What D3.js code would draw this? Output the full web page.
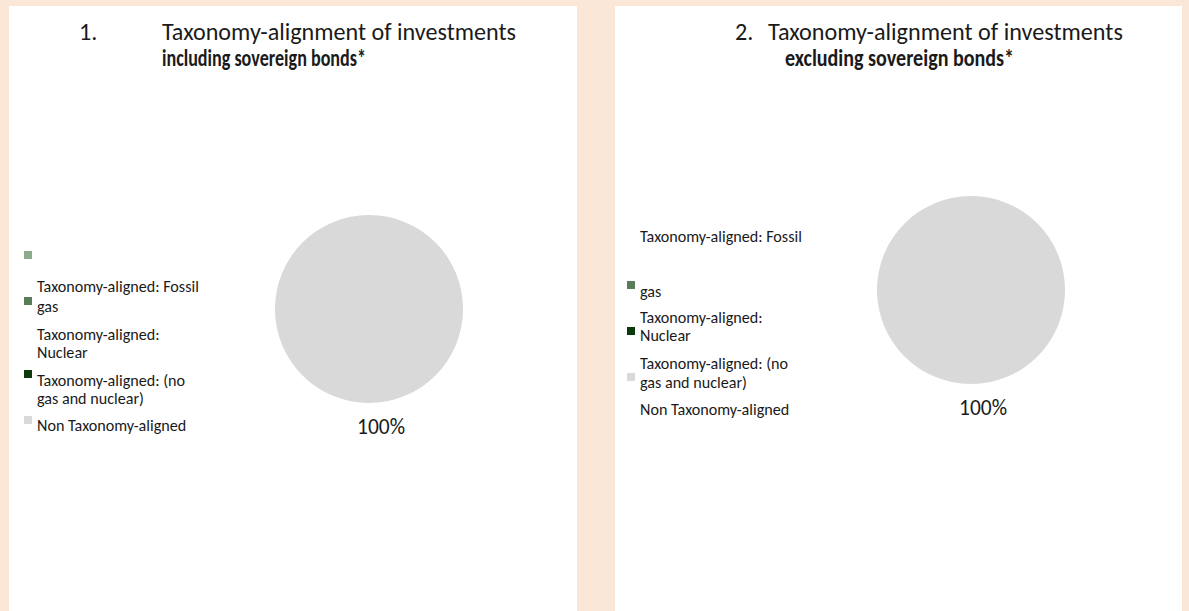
<!DOCTYPE html>
<html>
<head>
<meta charset="utf-8">
<script src="https://cdn.jsdelivr.net/npm/d3@7"></script>
<style>
  html, body { margin: 0; padding: 0; background: #fae7d7; }
  svg { display: block; }
  text { font-family: Carlito, Calibri, Lato, "Open Sans", sans-serif; fill: #1a1a1a; }
</style>
</head>
<body>
<svg id="chart" width="1189" height="611"></svg>
<script>
// Data
var categories = ["Taxonomy-aligned: Fossil gas", "Taxonomy-aligned: Nuclear",
                  "Taxonomy-aligned: (no gas and nuclear)", "Non Taxonomy-aligned"];
var colors = ["#587d58", "#0d3a0d", "#d9d9d9", "#d9d9d9"];
var valuesIncl = [0, 0, 0, 100];   // including sovereign bonds
var valuesExcl = [0, 0, 0, 100];   // excluding sovereign bonds
var titles = [
  { num: "1.", line1: "Taxonomy-alignment of investments", line2: "including sovereign bonds*" },
  { num: "2.", line1: "Taxonomy-alignment of investments", line2: "excluding sovereign bonds*" }
];

var svg = d3.select("#chart");

// fit a text to a target width by changing its font size
function fit(sel, w) {
  var len = sel.node().getComputedTextLength();
  var fs = parseFloat(sel.attr("font-size"));
  sel.attr("font-size", (fs * w / len).toFixed(2));
  return fs * w / len;
}

// panels
svg.append("rect").attr("x", 9).attr("y", 6).attr("width", 568).attr("height", 620).attr("fill", "#fff");
svg.append("rect").attr("x", 615).attr("y", 6).attr("width", 567).attr("height", 620).attr("fill", "#fff");

// titles
var titlePos = [
  { numX: 79, x1: 162, w1: 354, x2: 162, w2: 204 },
  { numX: 735, x1: 768, w1: 355, x2: 785, w2: 229 }
];
titles.forEach(function(t, i) {
  var p = titlePos[i];
  var num = svg.append("text").attr("x", p.numX).attr("y", 40).attr("font-size", 19).text(t.num);
  var a = svg.append("text").attr("x", p.x1).attr("y", 40).attr("font-size", 19).text(t.line1);
  var fs = fit(a, p.w1);
  num.attr("font-size", fs.toFixed(2));
  svg.append("text").attr("x", p.x2).attr("y", 66).attr("font-size", (fs * 0.97).toFixed(2))
    .attr("font-weight", "bold")
    .attr("textLength", p.w2).attr("lengthAdjust", "spacingAndGlyphs")
    .text(t.line2);
});

// pies
var pie = d3.pie().sort(null).value(function(d) { return d; });
function drawPie(values, cx, cy, r) {
  var g = svg.append("g").attr("transform", "translate(" + cx + "," + cy + ")");
  var arc = d3.arc().innerRadius(0).outerRadius(r);
  var labelArc = d3.arc().innerRadius(r + 22).outerRadius(r + 22);
  var arcs = pie(values);
  g.selectAll("path").data(arcs).enter().append("path")
    .attr("d", arc)
    .attr("fill", function(d, i) { return colors[i]; });
  g.selectAll(".lbl").data(arcs.filter(function(d) { return d.data > 0; }))
    .enter().append("text")
    .attr("class", "lbl")
    .attr("transform", function(d) { var c = labelArc.centroid(d); return "translate(" + (c[0] + 12) + "," + (c[1] + 9) + ")"; })
    .attr("text-anchor", "middle")
    .attr("font-size", 17)
    .text(function(d) { return d3.format(".0%")(d.data / d3.sum(values)); })
    .each(function() { fit(d3.select(this), 48); });
}
drawPie(valuesIncl, 369, 309, 94);
drawPie(valuesExcl, 971, 290, 94);

// legends (as laid out in the source picture)
var legend1Swatches = [
  { y: 251, color: "#8eaa8c" }, { y: 297, color: colors[0] },
  { y: 370, color: colors[1] }, { y: 416, color: colors[3] }
];
var legend1Lines = [
  { y: 292, t: "Taxonomy-aligned: Fossil" }, { y: 312, t: "gas" },
  { y: 340, t: "Taxonomy-aligned:" }, { y: 358, t: "Nuclear" },
  { y: 386, t: "Taxonomy-aligned: (no" }, { y: 404, t: "gas and nuclear)" },
  { y: 431, t: "Non Taxonomy-aligned" }
];
var legend2Swatches = [
  { y: 281, color: colors[0] }, { y: 327, color: colors[1] }, { y: 373, color: colors[2] }
];
var legend2Lines = [
  { y: 242, t: "Taxonomy-aligned: Fossil" }, { y: 297, t: "gas" },
  { y: 323, t: "Taxonomy-aligned:" }, { y: 341, t: "Nuclear" },
  { y: 369, t: "Taxonomy-aligned: (no" }, { y: 388, t: "gas and nuclear)" },
  { y: 415, t: "Non Taxonomy-aligned" }
];
function drawLegend(sw, lines, sx, tx) {
  var g = svg.append("g");
  g.selectAll("rect").data(sw).enter().append("rect")
    .attr("x", sx).attr("y", function(d) { return d.y; })
    .attr("width", 8).attr("height", 8)
    .attr("fill", function(d) { return d.color; });
  g.selectAll("text").data(lines).enter().append("text")
    .attr("x", tx).attr("y", function(d) { return d.y; })
    .attr("font-size", 13)
    .text(function(d) { return d.t; });
  var first = g.select("text");
  var len = first.node().getComputedTextLength();
  g.selectAll("text").attr("font-size", (13 * 162 / len).toFixed(2));
}
drawLegend(legend1Swatches, legend1Lines, 24, 37);
drawLegend(legend2Swatches, legend2Lines, 627, 640);
</script>
</body>
</html>
